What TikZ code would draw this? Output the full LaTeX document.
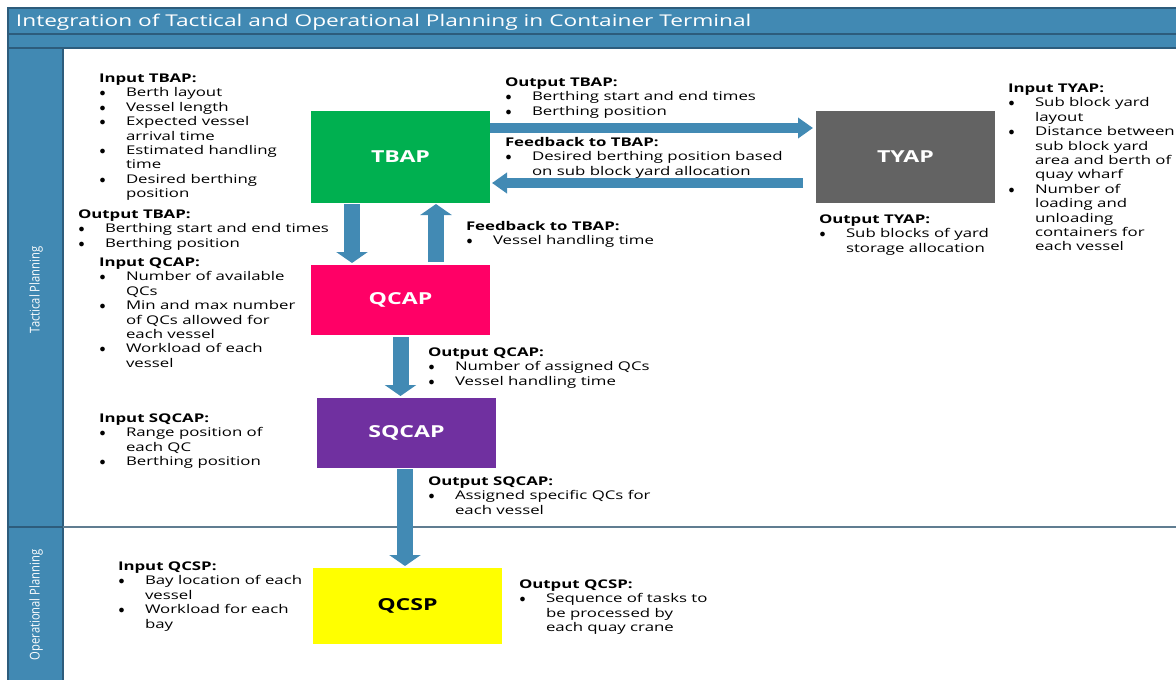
\documentclass[tikz,border=0pt]{standalone}
\usepackage{fontspec}
\setmainfont{Open Sans}[FakeStretch=1.4]
\newfontfamily\lanefont{Open Sans}[FakeStretch=0.83]
\usetikzlibrary{arrows.meta}

\definecolor{lanefill}{RGB}{65,137,179}
\definecolor{laneedge}{RGB}{45,92,124}
\definecolor{arrowfill}{RGB}{66,138,180}
\definecolor{tbapgreen}{RGB}{0,176,80}
\definecolor{tyapgray}{RGB}{99,99,99}
\definecolor{qcappink}{RGB}{255,0,102}
\definecolor{sqcappurple}{RGB}{112,48,160}
\definecolor{qcspyellow}{RGB}{255,255,0}
\definecolor{divider}{RGB}{96,125,145}

% text block: bold heading followed by bullet items
\newcommand\tblock[2]{\vtop{\hsize=360pt\rightskip=0pt plus 1fil\fontsize{12}{14.4}\selectfont
  \baselineskip=14.4pt\parindent=0pt\parskip=0pt\let\\\newline\textbf{#1}\par #2}}
\newcommand\itm[1]{\hangindent=27pt\hangafter=1\noindent
  \hbox to 27pt{\hskip0.5pt$\bullet$\hfil}#1\par}

\begin{document}
\begin{tikzpicture}[x=1pt,y=-1pt,
  txt/.style={anchor=base west, inner sep=0pt, outer sep=0pt},
  box/.style={inner sep=0pt, outer sep=0pt, text=white, font=\fontsize{16.5}{19}\selectfont\bfseries},
  harrow/.style={draw=arrowfill, line width=10pt, -{Triangle[length=15pt,width=20pt]}},
  varrow/.style={draw=arrowfill, line width=16pt, -{Triangle[length=11pt,width=31pt]}},
  lanelabel/.style={rotate=90, text=white, font=\lanefont\fontsize{13.5}{16}\selectfont, inner sep=0pt}
]
\useasboundingbox (0,0) rectangle (1176,680);
\clip (0,0) rectangle (1176,680);

% header bars and swimlane column
\fill[lanefill] (8,8) rectangle (1190,48);
\fill[lanefill] (8,48) rectangle (63,690);
\draw[laneedge, line width=1.5pt] (8,690) -- (8,8) -- (1190,8);
\draw[laneedge, line width=1.5pt] (8,34) -- (1190,34);
\draw[laneedge, line width=1.5pt] (8,48) -- (1190,48);
\draw[laneedge, line width=1.5pt] (63,48) -- (63,690);
\draw[laneedge, line width=1.5pt] (8,527) -- (63,527);
\draw[divider, line width=1.5pt] (63,527) -- (1190,527);

\node[txt, text=white, font=\fontsize{16.2}{19}\selectfont] (title) at (16,26)
  {Integration of Tactical and Operational Planning in Container Terminal};

\node[lanelabel] (tact) at (36,290) {Tactical Planning};
\node[lanelabel] (oper) at (36,605) {Operational Planning};

% planning stages
\node[box, fill=tbapgreen, minimum width=179pt, minimum height=92pt] (TBAP) at (400.5,157) {TBAP};
\node[box, fill=tyapgray, minimum width=179pt, minimum height=92pt] (TYAP) at (905.5,157) {TYAP};
\node[box, fill=qcappink, minimum width=179pt, minimum height=70pt] (QCAP) at (400.5,300) {QCAP};
\node[box, fill=sqcappurple, minimum width=179pt, minimum height=70pt] (SQCAP) at (406.5,433) {SQCAP};
\node[box, fill=qcspyellow, text=black, minimum width=189pt, minimum height=76pt] (QCSP) at (407.5,606) {QCSP};

% flows between stages
\draw[harrow, shorten >=3pt] ([yshift=29pt]TBAP.east) -- ([yshift=29pt]TYAP.west);
\draw[harrow, shorten <=13pt, shorten >=2pt] ([yshift=-26pt]TYAP.west) -- ([yshift=-26pt]TBAP.east);
\draw[varrow, shorten <=1pt, shorten >=2pt] ([xshift=-48.5pt]TBAP.south) -- ([xshift=-48.5pt]QCAP.north);
\draw[varrow, shorten <=3pt, shorten >=1pt] ([xshift=35.5pt]QCAP.north) -- ([xshift=35.5pt]TBAP.south);
\draw[varrow, shorten <=2pt, shorten >=2pt] (QCAP.south) -- (QCAP.south |- SQCAP.north);
\draw[varrow, shorten <=1pt, shorten >=2pt] ([xshift=-1.5pt]SQCAP.south) -- ([xshift=-1.5pt]SQCAP.south |- QCSP.north);

% inputs and outputs
\node[txt] (inTBAP) at (99,82.5) {\tblock{Input TBAP:}{%
  \itm{Berth layout}\itm{Vessel length}\itm{Expected vessel\\arrival time}%
  \itm{Estimated handling\\time}\itm{Desired berthing\\position}}};
\node[txt] (outTBAPa) at (78,218.5) {\tblock{Output TBAP:}{%
  \itm{Berthing start and end times}\itm{Berthing position}}};
\node[txt] (inQCAP) at (99,266.5) {\tblock{Input QCAP:}{%
  \itm{Number of available\\QCs}\itm{Min and max number\\of QCs allowed for\\each vessel}%
  \itm{Workload of each\\vessel}}};
\node[txt] (inSQCAP) at (99,422.5) {\tblock{Input SQCAP:}{%
  \itm{Range position of\\each QC}\itm{Berthing position}}};
\node[txt] (inQCSP) at (118,570.5) {\tblock{Input QCSP:}{%
  \itm{Bay location of each\\vessel}\itm{Workload for each\\bay}}};
\node[txt] (outTBAPb) at (505,86.5) {\tblock{Output TBAP:}{%
  \itm{Berthing start and end times}\itm{Berthing position}}};
\node[txt] (fbTBAPa) at (505,146.5) {\tblock{Feedback to TBAP:}{%
  \itm{Desired berthing position based\\on sub block yard allocation}}};
\node[txt] (fbTBAPb) at (466,230.5) {\tblock{Feedback to TBAP:}{%
  \itm{Vessel handling time}}};
\node[txt] (outTYAP) at (819,223.5) {\tblock{Output TYAP:}{%
  \itm{Sub blocks of yard\\storage allocation}}};
\node[txt] (inTYAP) at (1008,92.5) {\tblock{Input TYAP:}{%
  \itm{Sub block yard\\layout}\itm{Distance between\\sub block yard\\area and berth of\\quay wharf}%
  \itm{Number of\\loading and\\unloading\\containers for\\each vessel}}};
\node[txt] (outQCAP) at (428,356.5) {\tblock{Output QCAP:}{%
  \itm{Number of assigned QCs}\itm{Vessel handling time}}};
\node[txt] (outSQCAP) at (428,485.5) {\tblock{Output SQCAP:}{%
  \itm{Assigned specific QCs for\\each vessel}}};
\node[txt] (outQCSP) at (519,588.5) {\tblock{Output QCSP:}{%
  \itm{Sequence of tasks to\\be processed by\\each quay crane}}};
\end{tikzpicture}
\end{document}
